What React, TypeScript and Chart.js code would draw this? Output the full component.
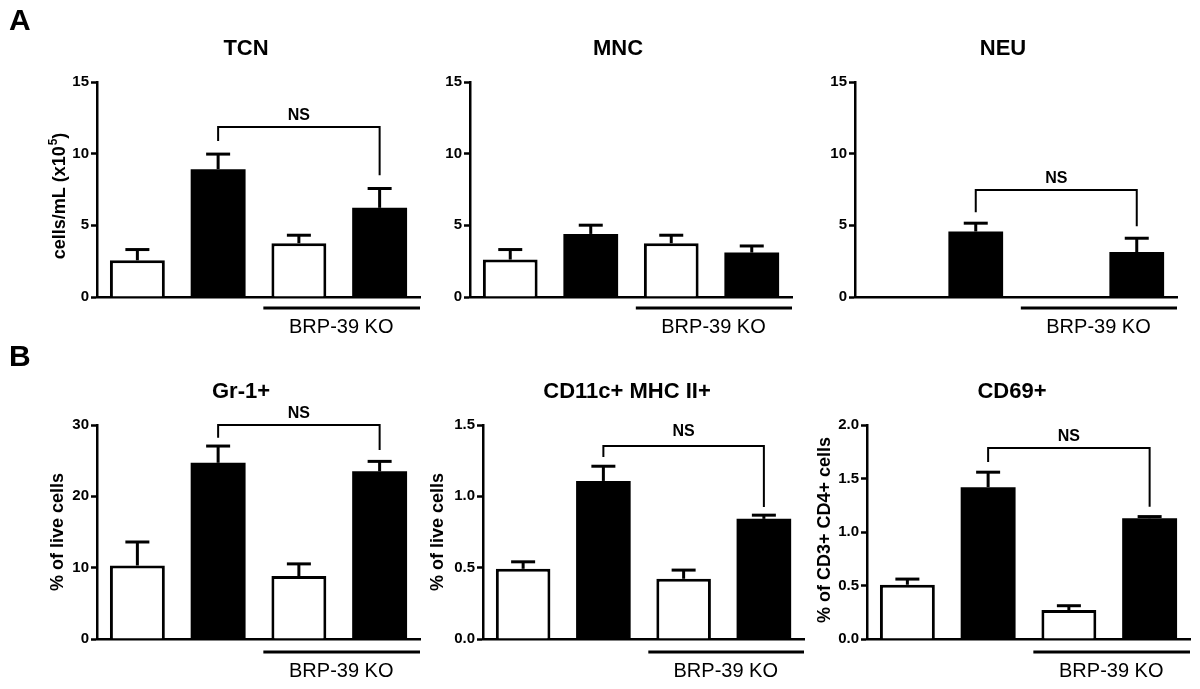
import React, { useEffect, useRef } from "react";
import { Chart, registerables } from "chart.js";

Chart.register(...registerables);

const FONT = "'Liberation Sans', Arial, Helvetica, sans-serif";

// ---------- data ----------
const groups = ["Group 1", "Group 2", "Group 3", "Group 4"];
const koLabel = "BRP-39 KO";
const nsLabel = "NS";

const tcnMeans = [2.56, 8.92, 3.75, 6.22];
const tcnErrors = [0.75, 1.05, 0.56, 1.35];

const mncMeans = [2.61, 4.4, 3.75, 3.1];
const mncErrors = [0.7, 0.61, 0.56, 0.46];

const neuMeans = [null, 4.57, null, 3.14];
const neuErrors = [null, 0.58, null, 0.96];

const gr1Means = [10.3, 24.7, 8.83, 23.5];
const gr1Errors = [3.3, 2.35, 1.7, 1.4];

const cd11cMeans = [0.492, 1.108, 0.422, 0.842];
const cd11cErrors = [0.049, 0.103, 0.061, 0.026];

const cd69Means = [0.507, 1.419, 0.27, 1.129];
const cd69Errors = [0.053, 0.14, 0.041, 0.015];

const rowATicks = [0, 5, 10, 15];
const gr1Ticks = [0, 10, 20, 30];
const cd11cTicks = [0, 0.5, 1.0, 1.5];
const cd69Ticks = [0, 0.5, 1.0, 1.5, 2.0];

// NS brackets: [bracket level, left leg end, right leg end] in data units
const tcnBracket = [11.86, 10.88, 8.5];
const neuBracket = [7.46, 5.92, 4.94];
const gr1Bracket = [30.0, 28.2, 26.5];
const cd11cBracket = [1.353, 1.276, 0.926];
const cd69Bracket = [1.785, 1.655, 1.235];

// ---------- panels ----------
type PanelCfg = {
  area: { L: number; R: number; T: number; B: number };
  means: (number | null)[];
  errors: (number | null)[];
  ticks: number[];
  decimals: number;
  bracket?: number[];
  nsGap?: number;
  title: { text: string; x: number; y: number };
  yLabel?: { text: string; sup?: string; tail?: string; x: number; y: number };
  letter?: { text: string; x: number; y: number };
  koLine: number;
  koText: number;
};

const panels: PanelCfg[] = [
  {
    area: { L: 97, R: 420, T: 82, B: 297 },
    means: tcnMeans, errors: tcnErrors, ticks: rowATicks, decimals: 0,
    bracket: tcnBracket,
    title: { text: "TCN", x: 246, y: 55 },
    yLabel: { text: "cells/mL (x10", sup: "5", tail: ")", x: 65, y: 196 },
    letter: { text: "A", x: 9, y: 30 },
    koLine: 11, koText: 36,
  },
  {
    area: { L: 470, R: 792, T: 82, B: 297 },
    means: mncMeans, errors: mncErrors, ticks: rowATicks, decimals: 0,
    title: { text: "MNC", x: 618, y: 55 },
    koLine: 11, koText: 36,
  },
  {
    area: { L: 855, R: 1177, T: 82, B: 297 },
    means: neuMeans, errors: neuErrors, ticks: rowATicks, decimals: 0,
    bracket: neuBracket,
    title: { text: "NEU", x: 1003, y: 55 },
    koLine: 11, koText: 36,
  },
  {
    area: { L: 97, R: 420, T: 425, B: 639 },
    means: gr1Means, errors: gr1Errors, ticks: gr1Ticks, decimals: 0,
    bracket: gr1Bracket,
    title: { text: "Gr-1+", x: 241, y: 398 },
    yLabel: { text: "% of live cells", x: 63, y: 532 },
    letter: { text: "B", x: 9, y: 366 },
    koLine: 13, koText: 38,
  },
  {
    area: { L: 483, R: 804, T: 425, B: 639 },
    means: cd11cMeans, errors: cd11cErrors, ticks: cd11cTicks, decimals: 1,
    bracket: cd11cBracket, nsGap: 10,
    title: { text: "CD11c+ MHC II+", x: 627, y: 398 },
    yLabel: { text: "% of live cells", x: 443, y: 532 },
    koLine: 13, koText: 38,
  },
  {
    area: { L: 867, R: 1190, T: 425, B: 639 },
    means: cd69Means, errors: cd69Errors, ticks: cd69Ticks, decimals: 1,
    bracket: cd69Bracket,
    title: { text: "CD69+", x: 1012, y: 398 },
    yLabel: { text: "% of CD3+ CD4+ cells", x: 830, y: 530 },
    koLine: 13, koText: 38,
  },
];

const W = 1200;
const H = 689;

function makePlugin(cfg: PanelCfg) {
  return {
    id: "panelDecor",
    afterDatasetsDraw(chart: any) {
      const ctx: CanvasRenderingContext2D = chart.ctx;
      const xs = chart.scales.x;
      const ys = chart.scales.y;
      const area = chart.chartArea;
      const meta = chart.getDatasetMeta(0);
      ctx.save();
      ctx.strokeStyle = "#000";
      ctx.fillStyle = "#000";
      ctx.lineCap = "butt";

      // error bars (upper only)
      cfg.means.forEach((m, i) => {
        const e = cfg.errors[i];
        if (m == null || e == null) return;
        const el = meta.data[i];
        const x = el.x;
        const y0 = ys.getPixelForValue(m);
        const y1 = ys.getPixelForValue(m + e);
        ctx.lineWidth = 3;
        ctx.beginPath();
        ctx.moveTo(x, y0);
        ctx.lineTo(x, y1);
        ctx.stroke();
        ctx.beginPath();
        ctx.moveTo(x - 12, y1);
        ctx.lineTo(x + 12, y1);
        ctx.stroke();
      });

      // NS bracket between group 2 and group 4
      if (cfg.bracket) {
        const [lvl, le, re] = cfg.bracket;
        const x1 = xs.getPixelForValue(1);
        const x2 = xs.getPixelForValue(3);
        const yl = ys.getPixelForValue(lvl);
        ctx.lineWidth = 2;
        ctx.beginPath();
        ctx.moveTo(x1, ys.getPixelForValue(le));
        ctx.lineTo(x1, yl);
        ctx.lineTo(x2, yl);
        ctx.lineTo(x2, ys.getPixelForValue(re));
        ctx.stroke();
        ctx.font = `bold 16px ${FONT}`;
        ctx.textAlign = "center";
        ctx.textBaseline = "alphabetic";
        ctx.fillText(nsLabel, (x1 + x2) / 2, yl - (cfg.nsGap ?? 7));
      }

      // BRP-39 KO line + label
      const c3 = xs.getPixelForValue(2);
      const c4 = xs.getPixelForValue(3);
      const slot = c4 - c3;
      ctx.lineWidth = 3;
      ctx.beginPath();
      ctx.moveTo(c3 - slot * 0.44, area.bottom + cfg.koLine);
      ctx.lineTo(area.right, area.bottom + cfg.koLine);
      ctx.stroke();
      ctx.font = `20px ${FONT}`;
      ctx.textAlign = "center";
      ctx.textBaseline = "alphabetic";
      ctx.fillText(koLabel, (c3 + c4) / 2 + 2, area.bottom + cfg.koText);

      // title
      ctx.font = `bold 22px ${FONT}`;
      ctx.fillText(cfg.title.text, cfg.title.x, cfg.title.y);

      // panel letter
      if (cfg.letter) {
        ctx.font = `bold 30px ${FONT}`;
        ctx.textAlign = "left";
        ctx.fillText(cfg.letter.text, cfg.letter.x, cfg.letter.y);
      }

      // y-axis title (rotated)
      if (cfg.yLabel) {
        const yl = cfg.yLabel;
        ctx.save();
        ctx.translate(yl.x, yl.y);
        ctx.rotate(-Math.PI / 2);
        ctx.textBaseline = "alphabetic";
        ctx.textAlign = "left";
        const main = `bold 18px ${FONT}`;
        const small = `bold 12px ${FONT}`;
        ctx.font = main;
        const w1 = ctx.measureText(yl.text).width;
        let w2 = 0;
        let w3 = 0;
        if (yl.sup) {
          ctx.font = small;
          w2 = ctx.measureText(yl.sup).width + 1;
          ctx.font = main;
          w3 = ctx.measureText(yl.tail || "").width;
        }
        const total = w1 + w2 + w3;
        let x = -total / 2;
        ctx.font = main;
        ctx.fillText(yl.text, x, 0);
        x += w1;
        if (yl.sup) {
          ctx.font = small;
          ctx.fillText(yl.sup, x + 1, -8);
          x += w2;
          ctx.font = main;
          ctx.fillText(yl.tail || "", x, 0);
        }
        ctx.restore();
      }
      ctx.restore();
    },
  };
}

function Panel({ cfg }: { cfg: PanelCfg }) {
  const ref = useRef<HTMLCanvasElement>(null);
  useEffect(() => {
    if (!ref.current) return;
    const { L, R, T, B } = cfg.area;
    const maxV = cfg.ticks[cfg.ticks.length - 1];
    const chart = new Chart(ref.current, {
      type: "bar",
      data: {
        labels: groups,
        datasets: [
          {
            data: cfg.means as any,
            backgroundColor: ["#ffffff", "#000000", "#ffffff", "#000000"],
            borderColor: "#000000",
            borderWidth: [3, 0, 3, 0],
            borderSkipped: "bottom",
            barPercentage: 0.68,
            categoryPercentage: 1,
          },
        ],
      },
      options: {
        responsive: false,
        animation: false,
        devicePixelRatio: 1,
        layout: { padding: { left: 0, right: W - R, top: T, bottom: H - B } },
        plugins: { legend: { display: false }, tooltip: { enabled: false }, title: { display: false } },
        events: [],
        scales: {
          x: {
            type: "category",
            offset: true,
            grid: { display: false },
            ticks: { display: false },
            border: { display: true, color: "#000", width: 2.5 },
            afterFit: (s: any) => {
              s.height = 0;
            },
          },
          y: {
            min: 0,
            max: maxV,
            grid: { drawOnChartArea: false, drawTicks: true, tickLength: 6, tickWidth: 2.5, tickColor: "#000" },
            border: { display: true, color: "#000", width: 2.5 },
            ticks: {
              padding: 2,
              color: "#000",
              font: { family: FONT, size: 15, weight: "bold" },
              callback: (v: any) => Number(v).toFixed(cfg.decimals),
            },
            afterBuildTicks: (s: any) => {
              s.ticks = cfg.ticks.map((v) => ({ value: v }));
            },
            afterFit: (s: any) => {
              s.width = L;
            },
          },
        },
      },
      plugins: [makePlugin(cfg)],
    } as any);
    return () => chart.destroy();
  }, [cfg]);
  return (
    <canvas
      ref={ref}
      width={W}
      height={H}
      style={{ position: "absolute", left: 0, top: 0, width: W, height: H }}
    />
  );
}

export default function App() {
  return (
    <div style={{ position: "absolute", left: 0, top: 0, width: W, height: H, background: "#fff", overflow: "hidden" }}>
      {panels.map((p, i) => (
        <Panel key={i} cfg={p} />
      ))}
    </div>
  );
}
